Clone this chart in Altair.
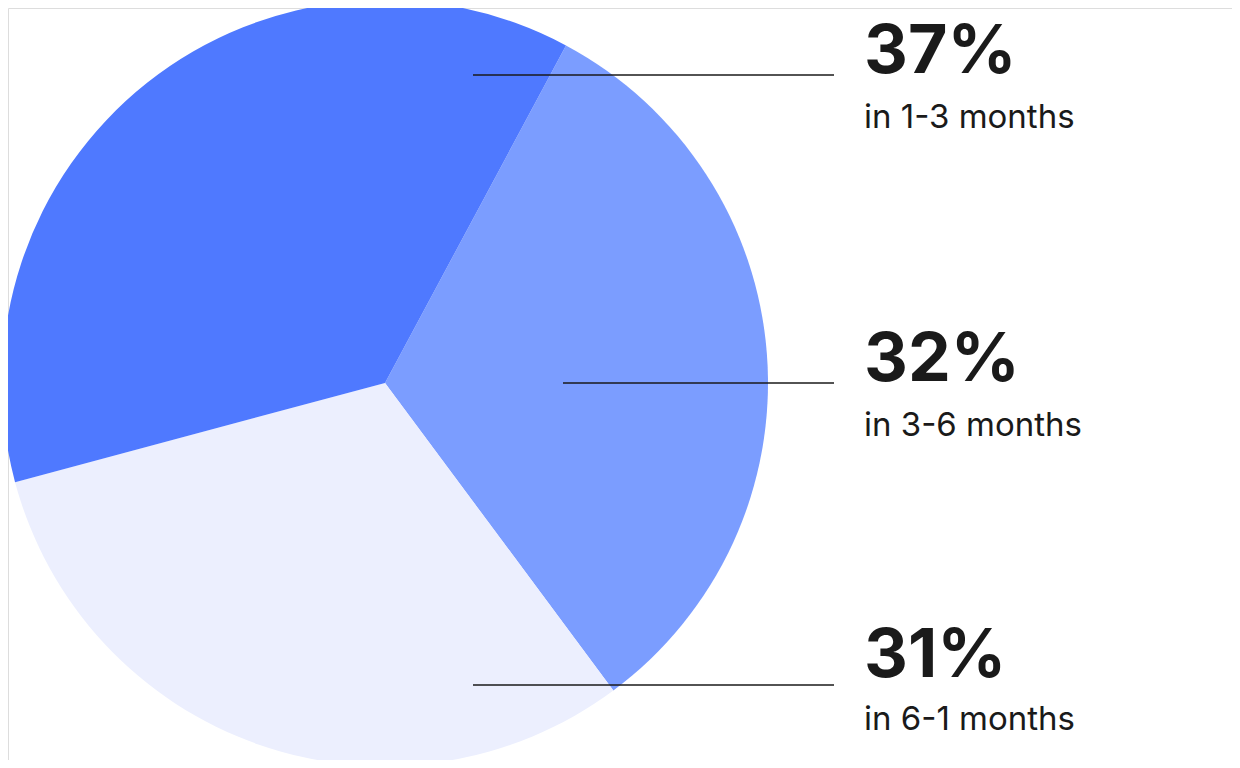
import math
import altair as alt
import pandas as pd

# data
categories = ["in 3-6 months", "in 6-1 months", "in 1-3 months"]
shares = [32, 31, 37]
colors = ["#7b9dff", "#eceffe", "#4f79ff"]

label_order = ["in 1-3 months", "in 3-6 months", "in 6-1 months"]
label_pct = ["37%", "32%", "31%"]

# layout for the annotations (chart pixels)
line_y = [67, 375, 677]
line_x0 = [465, 555, 465]
pct_y = [65, 373, 669]
sub_y = [120, 428, 722]

pie_df = pd.DataFrame({"cat": categories, "share": shares, "ord": [0, 1, 2]})
lab_df = pd.DataFrame({
    "cat": label_order,
    "pct": label_pct,
    "ly": line_y,
    "lx": line_x0,
    "py": pct_y,
    "sy": sub_y,
})

W, H = 1224, 752
start = math.radians(28.2)
px = alt.Scale(domain=[0, W], range=[0, W])
py = alt.Scale(domain=[0, H], range=[0, H])

pie = alt.Chart(pie_df).mark_arc(outerRadius=383, strokeWidth=0).encode(
    theta=alt.Theta("share:Q", stack=True, scale=alt.Scale(range=[start, start + 2 * math.pi])),
    color=alt.Color("cat:N", scale=alt.Scale(domain=categories, range=colors), legend=None),
    order=alt.Order("ord:Q"),
    x=alt.value(377),
    y=alt.value(375),
)

lines = alt.Chart(lab_df).mark_rule(color="#1a1a1a", strokeWidth=1.6).encode(
    x=alt.X("lx:Q", scale=px, axis=None),
    x2=alt.value(826),
    y=alt.Y("ly:Q", scale=py, axis=None),
)

pct = alt.Chart(lab_df).mark_text(
    font="Inter", fontWeight="bold", fontSize=68, color="#1a1a1a",
    align="left", baseline="alphabetic",
).encode(x=alt.value(856), y=alt.Y("py:Q", scale=py, axis=None), text="pct:N")

sub = alt.Chart(lab_df).mark_text(
    font="Inter", fontSize=33, color="#1a1a1a",
    align="left", baseline="alphabetic",
).encode(x=alt.value(856), y=alt.Y("sy:Q", scale=py, axis=None), text="cat:N")

chart = alt.layer(pie, lines, pct, sub).properties(
    width=W, height=H, autosize=alt.AutoSizeParams(type="none"), padding=0,
).configure_view(strokeWidth=0, stroke="transparent").configure(background="#ffffff")

chart.save("out.html", embed_options={"renderer": "svg", "actions": False})
